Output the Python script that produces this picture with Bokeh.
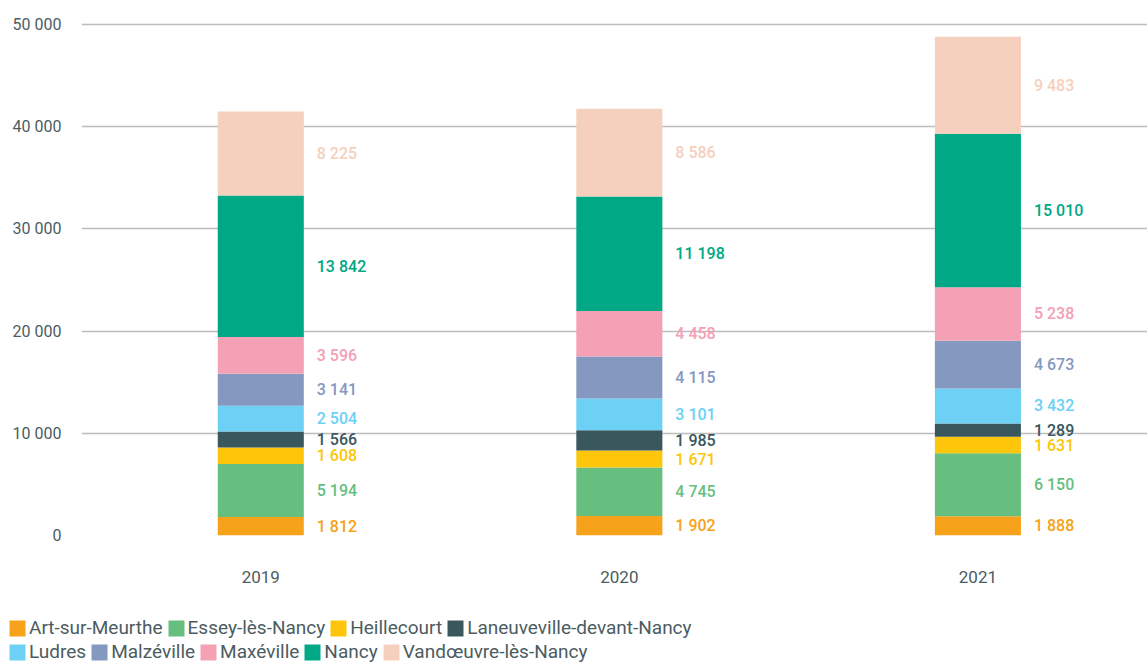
from bokeh.plotting import figure
from bokeh.layouts import column
from bokeh.models import Legend, LegendItem, Range1d, FixedTicker, ColumnDataSource
from bokeh.core.properties import value
from bokeh.embed import file_html
from bokeh.resources import INLINE

years = ["2019", "2020", "2021"]
communes = ["Art-sur-Meurthe", "Essey-lès-Nancy", "Heillecourt", "Laneuveville-devant-Nancy",
            "Ludres", "Malzéville", "Maxéville", "Nancy", "Vandœuvre-lès-Nancy"]
colors = ["#F7A21B", "#66BF7F", "#FDC60A", "#3A575E", "#6DD0F5", "#8598BF", "#F4A0B5", "#00A886", "#F6D0BE"]

art = [1812, 1902, 1888]
essey = [5194, 4745, 6150]
heillecourt = [1608, 1671, 1631]
laneuveville = [1566, 1985, 1289]
ludres = [2504, 3101, 3432]
malzeville = [3141, 4115, 4673]
maxeville = [3596, 4458, 5238]
nancy = [13842, 11198, 15010]
vandoeuvre = [8225, 8586, 9483]
series = [art, essey, heillecourt, laneuveville, ludres, malzeville, maxeville, nancy, vandoeuvre]

y_ticks = [0, 10000, 20000, 30000, 40000, 50000]

xs = [i + 0.5 for i in range(len(years))]
data = {"x": xs}
keys = []
for k, s in enumerate(series):
    key = "s%d" % k
    keys.append(key)
    data[key] = s
src = ColumnDataSource(data)

FONT = "Roboto"
GREY = "#4C5C61"

p = figure(x_range=Range1d(0, 2.973), y_range=Range1d(0, 50391),
           width=1147, height=600, output_backend="svg", toolbar_location=None,
           min_border_left=81, min_border_right=0, min_border_top=20, min_border_bottom=65)
p.outline_line_color = None
p.background_fill_color = "white"
p.border_fill_color = "white"
p.frame_align = False

rs = p.vbar_stack(keys, x="x", width=0.24, color=colors, source=src, line_color=None)

# value labels
lx, ly, lt, lc = [], [], [], []
for i in range(len(years)):
    base = 0
    for k, s in enumerate(series):
        v = s[i]
        lx.append(xs[i])
        ly.append(base + v / 2)
        lt.append("{:,}".format(v).replace(",", " "))
        lc.append(colors[k])
        base += v
p.text(x=lx, y=ly, text=lt, text_color=lc, x_offset=56, text_align="left", text_baseline="middle",
       text_font=value("Roboto Medium, Roboto"), text_font_size="16px")

# axes
p.yaxis.ticker = FixedTicker(ticks=y_ticks)
p.yaxis.major_label_overrides = {t: "{:,}".format(t).replace(",", " ") for t in y_ticks}
p.yaxis.axis_line_color = None
p.yaxis.major_tick_line_color = None
p.yaxis.minor_tick_line_color = None
p.yaxis.major_label_standoff = 14
p.yaxis.major_label_text_font = FONT
p.yaxis.major_label_text_font_size = "16px"
p.yaxis.major_label_text_color = GREY

p.xaxis.ticker = FixedTicker(ticks=xs)
p.xaxis.major_label_overrides = {x: y for x, y in zip(xs, years)}
p.xaxis.axis_line_color = None
p.xaxis.major_tick_line_color = None
p.xaxis.minor_tick_line_color = None
p.xaxis.major_label_standoff = 29
p.xaxis.major_label_text_font = FONT
p.xaxis.major_label_text_font_size = "17px"
p.xaxis.major_label_text_color = GREY

p.xgrid.grid_line_color = None
p.ygrid.ticker = FixedTicker(ticks=y_ticks)
p.ygrid.grid_line_color = "#BDBDBD"
p.ygrid.grid_line_width = 1.5

# legend figure (holds only the legend rows)
lf = figure(x_range=Range1d(0, 1), y_range=Range1d(0, 1), width=1147, height=63,
            output_backend="svg", toolbar_location=None,
            x_axis_location=None, y_axis_location=None,
            min_border_left=0, min_border_right=0, min_border_top=0, min_border_bottom=0)
lf.grid.visible = False
lf.outline_line_color = None
lf.border_fill_color = "white"
lf.background_fill_color = "white"
lf.frame_align = False
dummies = [lf.vbar(x=[0.5], top=[0], bottom=[0], width=0.0, color=c, line_color=None) for c in colors]

def make_legend(idx, loc):
    leg = Legend(items=[LegendItem(label=communes[i], renderers=[dummies[i]]) for i in idx],
                 orientation="horizontal", location=loc, padding=0, margin=0, spacing=3,
                 glyph_width=20, glyph_height=20, label_standoff=2, label_height=22,
                 label_text_font=FONT, label_text_font_size="19px", label_text_color=GREY,
                 border_line_color=None, background_fill_alpha=0)
    return leg

lf.add_layout(make_legend([0, 1, 2, 3], (7, 24)))
lf.add_layout(make_legend([4, 5, 6, 7, 8], (7, 0)))

open("out.html", "w").write(file_html(column(p, lf, spacing=0), INLINE))
